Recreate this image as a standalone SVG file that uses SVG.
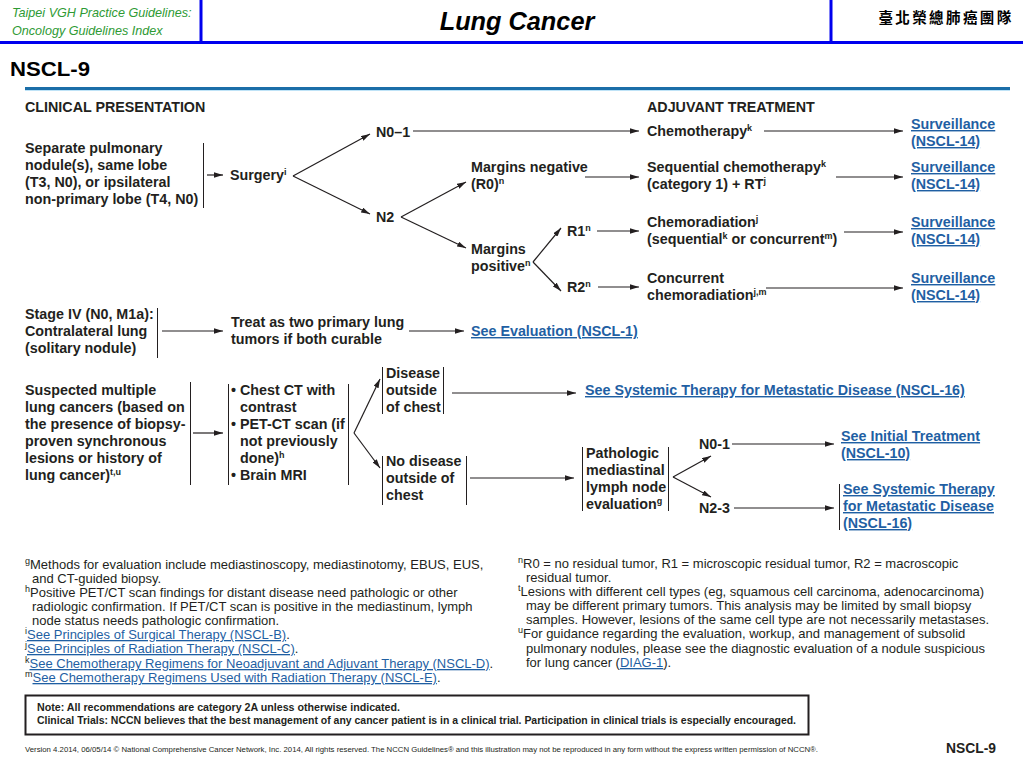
<svg xmlns="http://www.w3.org/2000/svg" width="1023" height="767" viewBox="0 0 1023 767">
<style>
.t{font-family:"Liberation Sans",Arial,sans-serif;font-size:14.3px;font-weight:bold;fill:#231f20}
.lk{fill:#1f5fa3;text-decoration:underline}
.fn{font-family:"Liberation Sans",Arial,sans-serif;font-size:13px;fill:#231f20}
.fl{fill:#1f5fa3;text-decoration:underline}
.sup{font-size:9px;baseline-shift:super}
.ln{stroke:#231f20;stroke-width:1.2;fill:none}
.ar{stroke:#231f20;stroke-width:1.2;fill:none;marker-end:url(#ah)}
.bar{stroke:#231f20;stroke-width:1;fill:none}
.hb{stroke:#0000ee;stroke-width:3}
</style>
<defs>
<marker id="ah" viewBox="0 0 10 6" refX="10" refY="3" markerWidth="9" markerHeight="5.4" orient="auto" markerUnits="userSpaceOnUse"><path d="M0,0 L10,3 L0,6 z" fill="#231f20"/></marker>
</defs>
<rect width="1023" height="767" fill="#ffffff"/>
<g id="header">
<line class="hb" x1="0" y1="42.5" x2="1023" y2="42.5"/>
<line class="hb" x1="201" y1="0" x2="201" y2="42"/>
<line class="hb" x1="831" y1="0" x2="831" y2="42"/>
<text x="12" y="17" font-family="Liberation Sans,Arial,sans-serif" font-size="12.6" font-style="italic" fill="#2e9a34">Taipei VGH Practice Guidelines:</text>
<text x="12" y="35" font-family="Liberation Sans,Arial,sans-serif" font-size="12.6" font-style="italic" fill="#2e9a34">Oncology Guidelines Index</text>
<text x="517" y="30" text-anchor="middle" font-family="Liberation Sans,Arial,sans-serif" font-size="25.3" font-weight="bold" font-style="italic" fill="#000">Lung Cancer</text>
<text x="946" y="23" text-anchor="middle" font-family="'Noto Sans CJK TC','Noto Sans CJK SC',serif" font-size="14.5" font-weight="bold" fill="#000" letter-spacing="2.4">臺北榮總肺癌團隊</text>
<text x="10" y="76" font-family="Liberation Sans,Arial,sans-serif" font-size="21" font-weight="bold" fill="#000" textLength="80" lengthAdjust="spacingAndGlyphs">NSCL-9</text>
<line x1="25" y1="88.5" x2="1010" y2="88.5" stroke="#1b6ea8" stroke-width="3"/>
<line x1="25" y1="90.5" x2="1010" y2="90.5" stroke="#bfe3f7" stroke-width="1"/>
</g>
<g id="headings">
<text class="t" x="25" y="112">CLINICAL PRESENTATION</text>
<text class="t" x="647" y="112">ADJUVANT TREATMENT</text>
</g>
<g id="connectors">
<line class="bar" x1="203.5" y1="143" x2="203.5" y2="208"/>
<line class="ar" x1="207" y1="175" x2="223" y2="175"/>
<line class="ar" x1="293" y1="176" x2="370" y2="134"/>
<line class="ar" x1="293" y1="176" x2="370" y2="214"/>
<line class="ar" x1="413" y1="131" x2="639" y2="131"/>
<line class="ar" x1="764" y1="131" x2="903" y2="131"/>
<line class="ar" x1="401" y1="217" x2="466" y2="182"/>
<line class="ar" x1="401" y1="217" x2="466" y2="248"/>
<line class="ar" x1="585" y1="177" x2="639" y2="177"/>
<line class="ar" x1="836" y1="177" x2="903" y2="177"/>
<line class="ar" x1="533" y1="262" x2="561" y2="228"/>
<line class="ar" x1="533" y1="262" x2="561" y2="291"/>
<line class="ar" x1="597" y1="231" x2="639" y2="231"/>
<line class="ar" x1="844" y1="232" x2="903" y2="232"/>
<line class="ar" x1="598" y1="287" x2="639" y2="287"/>
<line class="ar" x1="766" y1="288" x2="903" y2="288"/>
<line class="bar" x1="157.5" y1="308" x2="157.5" y2="358"/>
<line class="ar" x1="162" y1="331" x2="223" y2="331"/>
<line class="ar" x1="409" y1="331" x2="464" y2="331"/>
<line class="bar" x1="190.5" y1="382" x2="190.5" y2="485"/>
<line class="ar" x1="193" y1="433" x2="223" y2="433"/>
<line class="bar" x1="228.5" y1="384" x2="228.5" y2="485"/>
<line class="bar" x1="348.5" y1="384" x2="348.5" y2="485"/>
<line class="ar" x1="354" y1="433" x2="380" y2="379"/>
<line class="ar" x1="354" y1="433" x2="380" y2="468"/>
<line class="bar" x1="382.5" y1="367" x2="382.5" y2="414"/>
<line class="bar" x1="443.5" y1="367" x2="443.5" y2="414"/>
<line class="ar" x1="452" y1="393" x2="576" y2="393"/>
<line class="bar" x1="382.5" y1="456" x2="382.5" y2="505"/>
<line class="bar" x1="466.5" y1="456" x2="466.5" y2="505"/>
<line class="ar" x1="470" y1="478" x2="574" y2="478"/>
<line class="bar" x1="582.5" y1="447" x2="582.5" y2="511"/>
<line class="bar" x1="668.5" y1="447" x2="668.5" y2="511"/>
<line class="ar" x1="673" y1="477" x2="711" y2="456"/>
<line class="ar" x1="673" y1="477" x2="711" y2="497"/>
<line class="ar" x1="732" y1="444" x2="834" y2="444"/>
<line class="ar" x1="734" y1="508" x2="834" y2="508"/>
<line class="bar" x1="839.5" y1="484" x2="839.5" y2="530"/>
</g>
<g id="n-separate"><text class="t" x="25"><tspan x="25" y="153">Separate pulmonary</tspan><tspan x="25" y="170">nodule(s), same lobe</tspan><tspan x="25" y="187">(T3, N0), or ipsilateral</tspan><tspan x="25" y="204">non-primary lobe (T4, N0)</tspan></text></g>
<g id="n-surgery"><text class="t" x="230" y="180">Surgery<tspan class="sup">i</tspan></text></g>
<g id="n-n01"><text class="t" x="376" y="137">N0–1</text></g>
<g id="n-n2"><text class="t" x="376" y="222">N2</text></g>
<g id="n-chemo"><text class="t" x="647" y="136">Chemotherapy<tspan class="sup">k</tspan></text></g>
<g id="n-surv1"><text class="t lk"><tspan x="911" y="129">Surveillance</tspan><tspan x="911" y="146">(NSCL-14)</tspan></text></g>
<g id="n-margneg"><text class="t"><tspan x="471" y="172">Margins negative</tspan><tspan x="471" y="189">(R0)<tspan class="sup">n</tspan></tspan></text></g>
<g id="n-seq"><text class="t"><tspan x="647" y="172">Sequential chemotherapy<tspan class="sup">k</tspan></tspan><tspan x="647" y="189">(category 1) + RT<tspan class="sup">j</tspan></tspan></text></g>
<g id="n-surv2"><text class="t lk"><tspan x="911" y="172">Surveillance</tspan><tspan x="911" y="189">(NSCL-14)</tspan></text></g>
<g id="n-margpos"><text class="t"><tspan x="471" y="254">Margins</tspan><tspan x="471" y="271">positive<tspan class="sup">n</tspan></tspan></text></g>
<g id="n-r1"><text class="t" x="567" y="236">R1<tspan class="sup">n</tspan></text></g>
<g id="n-r2"><text class="t" x="567" y="292">R2<tspan class="sup">n</tspan></text></g>
<g id="n-chemorad"><text class="t"><tspan x="647" y="227">Chemoradiation<tspan class="sup">j</tspan></tspan><tspan x="647" y="244">(sequential<tspan class="sup">k</tspan> or concurrent<tspan class="sup">m</tspan>)</tspan></text></g>
<g id="n-surv3"><text class="t lk"><tspan x="911" y="227">Surveillance</tspan><tspan x="911" y="244">(NSCL-14)</tspan></text></g>
<g id="n-concurrent"><text class="t"><tspan x="647" y="283">Concurrent</tspan><tspan x="647" y="300">chemoradiation<tspan class="sup">j,m</tspan></tspan></text></g>
<g id="n-surv4"><text class="t lk"><tspan x="911" y="283">Surveillance</tspan><tspan x="911" y="300">(NSCL-14)</tspan></text></g>
<g id="n-stage4"><text class="t"><tspan x="25" y="319">Stage IV (N0, M1a):</tspan><tspan x="25" y="336">Contralateral lung</tspan><tspan x="25" y="353">(solitary nodule)</tspan></text></g>
<g id="n-treat"><text class="t"><tspan x="231" y="327">Treat as two primary lung</tspan><tspan x="231" y="344">tumors if both curable</tspan></text></g>
<g id="n-eval"><text class="t lk" x="471" y="336">See Evaluation (NSCL-1)</text></g>
<g id="n-suspected"><text class="t"><tspan x="25" y="395">Suspected multiple</tspan><tspan x="25" y="412">lung cancers (based on</tspan><tspan x="25" y="429">the presence of biopsy-</tspan><tspan x="25" y="446">proven synchronous</tspan><tspan x="25" y="463">lesions or history of</tspan><tspan x="25" y="480">lung cancer)<tspan class="sup">t,u</tspan></tspan></text></g>
<g id="n-workup"><text class="t"><tspan x="231" y="395">• Chest CT with</tspan><tspan x="240" y="412">contrast</tspan><tspan x="231" y="429">• PET-CT scan (if</tspan><tspan x="240" y="446">not previously</tspan><tspan x="240" y="463">done)<tspan class="sup">h</tspan></tspan><tspan x="231" y="480">• Brain MRI</tspan></text></g>
<g id="n-disease"><text class="t"><tspan x="386" y="378">Disease</tspan><tspan x="386" y="395">outside</tspan><tspan x="386" y="412">of chest</tspan></text></g>
<g id="n-systemic1"><text class="t lk" x="585" y="395">See Systemic Therapy for Metastatic Disease (NSCL-16)</text></g>
<g id="n-nodisease"><text class="t"><tspan x="386" y="466">No disease</tspan><tspan x="386" y="483">outside of</tspan><tspan x="386" y="500">chest</tspan></text></g>
<g id="n-patho"><text class="t"><tspan x="586" y="458">Pathologic</tspan><tspan x="586" y="475">mediastinal</tspan><tspan x="586" y="492">lymph node</tspan><tspan x="586" y="509">evaluation<tspan class="sup">g</tspan></tspan></text></g>
<g id="n-n01b"><text class="t" x="699" y="449">N0-1</text></g>
<g id="n-n23"><text class="t" x="699" y="513">N2-3</text></g>
<g id="n-initial"><text class="t lk"><tspan x="841" y="441">See Initial Treatment</tspan><tspan x="841" y="458">(NSCL-10)</tspan></text></g>
<g id="n-systemic2"><text class="t lk"><tspan x="843" y="494">See Systemic Therapy</tspan><tspan x="843" y="511">for Metastatic Disease</tspan><tspan x="843" y="528">(NSCL-16)</tspan></text></g>
<g id="footnotes-left">
<text class="fn" x="25" y="569"><tspan class="sup">g</tspan>Methods for evaluation include mediastinoscopy, mediastinotomy, EBUS, EUS,</text>
<text class="fn" x="32" y="583">and CT-guided biopsy.</text>
<text class="fn" x="25" y="597"><tspan class="sup">h</tspan>Positive PET/CT scan findings for distant disease need pathologic or other</text>
<text class="fn" x="32" y="611">radiologic confirmation. If PET/CT scan is positive in the mediastinum, lymph</text>
<text class="fn" x="32" y="625">node status needs pathologic confirmation.</text>
<text class="fn" x="25" y="639"><tspan class="sup">i</tspan><tspan class="fl">See Principles of Surgical Therapy (NSCL-B)</tspan>.</text>
<text class="fn" x="25" y="653"><tspan class="sup">j</tspan><tspan class="fl">See Principles of Radiation Therapy (NSCL-C)</tspan>.</text>
<text class="fn" x="25" y="668"><tspan class="sup">k</tspan><tspan class="fl">See Chemotherapy Regimens for Neoadjuvant and Adjuvant Therapy (NSCL-D)</tspan>.</text>
<text class="fn" x="25" y="682"><tspan class="sup">m</tspan><tspan class="fl">See Chemotherapy Regimens Used with Radiation Therapy (NSCL-E)</tspan>.</text>
</g>
<g id="footnotes-right">
<text class="fn" x="518" y="568"><tspan class="sup">n</tspan>R0 = no residual tumor, R1 = microscopic residual tumor, R2 = macroscopic</text>
<text class="fn" x="526" y="582">residual tumor.</text>
<text class="fn" x="518" y="596"><tspan class="sup">t</tspan>Lesions with different cell types (eg, squamous cell carcinoma, adenocarcinoma)</text>
<text class="fn" x="526" y="610">may be different primary tumors. This analysis may be limited by small biopsy</text>
<text class="fn" x="526" y="624">samples. However, lesions of the same cell type are not necessarily metastases.</text>
<text class="fn" x="518" y="638"><tspan class="sup">u</tspan>For guidance regarding the evaluation, workup, and management of subsolid</text>
<text class="fn" x="526" y="653">pulmonary nodules, please see the diagnostic evaluation of a nodule suspicious</text>
<text class="fn" x="526" y="667">for lung cancer (<tspan class="fl">DIAG-1</tspan>).</text>
</g>
<g id="note">
<rect x="25.5" y="695.5" width="783" height="39" fill="none" stroke="#231f20" stroke-width="2"/>
<text x="37" y="711" font-family="'Liberation Sans Narrow','Liberation Sans',Arial,sans-serif" font-size="11" font-weight="bold" fill="#231f20" textLength="363" lengthAdjust="spacingAndGlyphs">Note:  All recommendations are category 2A unless otherwise indicated.</text>
<text x="37" y="724" font-family="'Liberation Sans Narrow','Liberation Sans',Arial,sans-serif" font-size="11" font-weight="bold" fill="#231f20" textLength="759" lengthAdjust="spacingAndGlyphs">Clinical Trials: NCCN believes that the best management of any cancer patient is in a clinical trial.  Participation in clinical trials is especially encouraged.</text>
</g>
<g id="footer">
<text x="25" y="752" font-family="'Liberation Sans Narrow','Liberation Sans',Arial,sans-serif" font-size="7.5" fill="#231f20" textLength="793" lengthAdjust="spacingAndGlyphs">Version 4.2014, 06/05/14 © National Comprehensive Cancer Network, Inc. 2014, All rights reserved. The NCCN Guidelines® and this illustration may not be reproduced in any form without the express written permission of NCCN®.</text>
<text x="946" y="753" font-family="'Liberation Sans Narrow','Liberation Sans',Arial,sans-serif" font-size="14" font-weight="bold" fill="#231f20" textLength="50" lengthAdjust="spacingAndGlyphs">NSCL-9</text>
</g>
</svg>
